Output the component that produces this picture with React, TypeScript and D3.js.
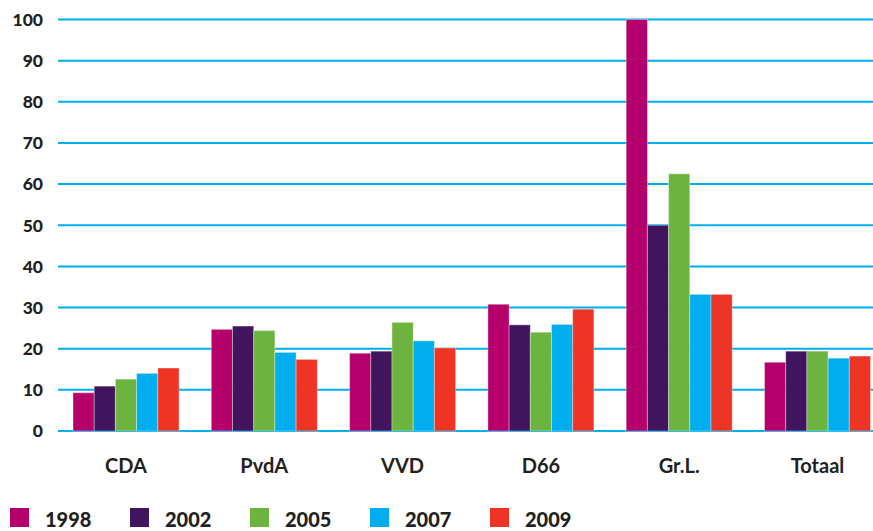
import React from "react";
import * as d3 from "d3";

const categories = ["CDA", "PvdA", "VVD", "D66", "Gr.L.", "Totaal"];
const years = ["1998", "2002", "2005", "2007", "2009"];
const colors = ["#B5006B", "#40155E", "#6CB33F", "#00ADEE", "#EE3424"];

const values1998 = [9.3, 24.7, 18.9, 30.8, 100, 16.7];
const values2002 = [10.9, 25.5, 19.4, 25.8, 50, 19.4];
const values2005 = [12.6, 24.4, 26.4, 24.0, 62.5, 19.4];
const values2007 = [14.0, 19.1, 21.9, 25.9, 33.2, 17.7];
const values2009 = [15.3, 17.4, 20.2, 29.6, 33.2, 18.2];
const series = [values1998, values2002, values2005, values2007, values2009];

const yTicks = [0, 10, 20, 30, 40, 50, 60, 70, 80, 90, 100];

const W = 873;
const H = 531;
const textColor = "#231F20";
const font = "Lato, 'Open Sans', sans-serif";

export default function App() {
  const gridLeft = 58;
  const y = d3.scaleLinear().domain([0, 100]).range([431, 19.5]);
  const x = d3
    .scaleBand()
    .domain(categories)
    .range([58, 885.5])
    .paddingInner(0.2336)
    .paddingOuter(0.1085);
  const xInner = d3.scaleBand().domain(years).range([0, x.bandwidth()]);

  return (
    <svg
      width={W}
      height={H}
      style={{ position: "absolute", left: 0, top: 0, display: "block" }}
    >
      <rect width={W} height={H} fill="#fff" />
      {/* grid lines + y labels */}
      {yTicks.map((t) => (
        <g key={t}>
          <line
            x1={gridLeft}
            x2={W}
            y1={y(t)}
            y2={y(t)}
            stroke="#00AEEF"
            strokeWidth={2}
          />
          <text
            x={43}
            y={y(t)}
            dy="0.36em"
            textAnchor="end"
            fontFamily={font}
            fontWeight={900}
            fontSize={17.5}
            fill={textColor}
          >
            {t}
          </text>
        </g>
      ))}

      {/* bars */}
      {categories.map((c, ci) => (
        <g key={c} transform={`translate(${x(c)},0)`}>
          {series.map((s, si) => (
            <rect
              key={years[si]}
              x={xInner(years[si])}
              y={y(s[ci])}
              width={xInner.bandwidth()}
              height={y(0) - y(s[ci])}
              fill={colors[si]}
              stroke="#fff"
              strokeOpacity={0.35}
              strokeWidth={1}
            />
          ))}
          <text
            x={x.bandwidth() / 2}
            y={473}
            textAnchor="middle"
            fontFamily={font}
            fontWeight={700}
            fontSize={20}
            fill={textColor}
          >
            {c}
          </text>
        </g>
      ))}

      {/* legend */}
      {years.map((yr, i) => (
        <g key={yr} transform={`translate(${10 + i * 120},508)`}>
          <rect width={19} height={19} fill={colors[i]} />
          <text
            x={35}
            y={19}
            fontFamily={font}
            fontWeight={900}
            fontSize={20}
            fill={textColor}
          >
            {yr}
          </text>
        </g>
      ))}
    </svg>
  );
}
